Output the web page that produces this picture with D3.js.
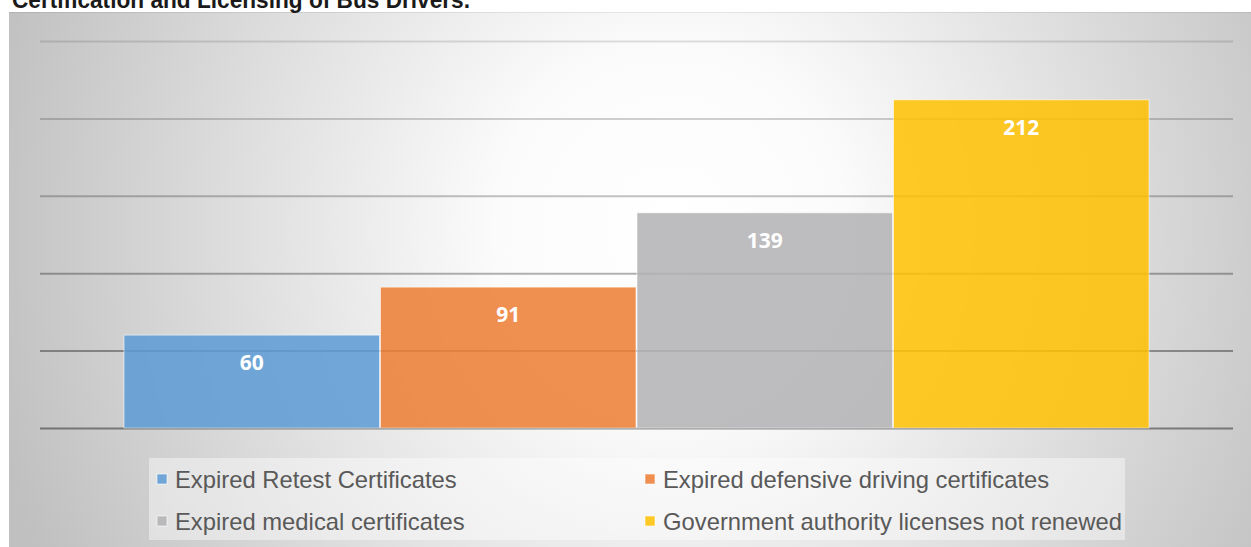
<!DOCTYPE html>
<html>
<head>
<meta charset="utf-8">
<script src="https://cdn.jsdelivr.net/npm/d3@7"></script>
<style>
  html, body { margin: 0; padding: 0; background: #ffffff; }
  svg { display: block; }
</style>
</head>
<body>
<svg id="chart" width="1251" height="547"></svg>
<script>
// Bus driver certification and licensing issues
const categories = [""];
const seriesNames = [
  "Expired Retest Certificates",
  "Expired defensive driving certificates",
  "Expired medical certificates",
  "Government authority licenses not renewed"
];
const seriesValues = [60, 91, 139, 212];
const seriesColors = ["#5b9bd5", "#ed7d31", "#b1b1b4", "#ffc000"];
const yTicks = [0, 50, 100, 150, 200, 250];
const titleText = "Certification and Licensing of Bus Drivers.";

const W = 1251, H = 547;
const svg = d3.select("#chart");
const defs = svg.append("defs");

// Chart area background: soft radial shading
const bg = defs.append("radialGradient")
  .attr("id", "bgGrad")
  .attr("gradientUnits", "userSpaceOnUse")
  .attr("cx", 670).attr("cy", 230).attr("r", 700)
  .attr("gradientTransform", "translate(670,230) scale(1,1.05) translate(-670,-230)");
bg.append("stop").attr("offset", 0).attr("stop-color", "#ffffff");
bg.append("stop").attr("offset", 0.25).attr("stop-color", "#fbfbfb");
bg.append("stop").attr("offset", 1).attr("stop-color", "#c0c0c0");

const area = { x: 9, y: 12, w: W - 9, h: H - 12 };
svg.append("rect")
  .attr("x", area.x).attr("y", area.y)
  .attr("width", area.w).attr("height", area.h)
  .attr("fill", "url(#bgGrad)");
svg.append("line")
  .attr("x1", area.x).attr("x2", W).attr("y1", area.y + 0.5).attr("y2", area.y + 0.5)
  .attr("stroke", "rgba(0,0,0,0.08)");

// Title (runs off the top edge of the page)
svg.append("text")
  .attr("x", 12).attr("y", 8)
  .attr("font-family", "Liberation Sans, Arial, sans-serif")
  .attr("font-weight", "bold")
  .attr("font-size", 23)
  .attr("fill", "#1a1a1a")
  .attr("textLength", 458)
  .attr("lengthAdjust", "spacingAndGlyphs")
  .text(titleText);

// Scales
const plot = { left: 40, right: 1233, top: 41, bottom: 428 };
const y = d3.scaleLinear().domain([0, 250]).range([plot.bottom, plot.top]);
const x0 = d3.scaleBand().domain(categories)
  .range([plot.left, plot.right]).paddingInner(0).paddingOuter(0.0814);
const x1 = d3.scaleBand().domain(seriesNames).range([0, x0.bandwidth()]).padding(0);
const color = d3.scaleOrdinal().domain(seriesNames).range(seriesColors);

// Gridlines via axis
const opac = d3.scaleLinear().domain([0, 250]).range([0.42, 0.12]);
const gridAxis = d3.axisLeft(y).tickValues(yTicks)
  .tickSize(-(plot.right - plot.left)).tickFormat("");
const grid = svg.append("g")
  .attr("transform", `translate(${plot.left},0)`)
  .call(gridAxis);
grid.select(".domain").remove();
grid.selectAll(".tick line")
  .attr("stroke", d => `rgba(0,0,0,${opac(d)})`)
  .attr("stroke-width", 2);

// Bars
const data = seriesNames.map((s, i) => ({ name: s, value: seriesValues[i] }));
const g = svg.append("g").attr("transform", `translate(${x0("")},0)`);
g.selectAll("rect.bar").data(data).join("rect")
  .attr("class", "bar")
  .attr("x", d => x1(d.name) + 0.5)
  .attr("y", d => y(d.value))
  .attr("width", x1.bandwidth() - 1)
  .attr("height", d => y(0) - y(d.value))
  .attr("fill", d => color(d.name))
  .attr("fill-opacity", 0.85)
  .attr("stroke", "rgba(255,255,255,0.55)")
  .attr("stroke-width", 1);

// Value labels
g.selectAll("text.lbl").data(data).join("text")
  .attr("class", "lbl")
  .attr("x", d => x1(d.name) + x1.bandwidth() / 2)
  .attr("y", d => y(d.value) + 35)
  .attr("text-anchor", "middle")
  .attr("font-family", "Open Sans, sans-serif")
  .attr("font-weight", "bold")
  .attr("font-size", 21)
  .attr("fill", "#ffffff")
  .text(d => d.value);

// Legend
const leg = svg.append("g");
leg.append("rect")
  .attr("x", 149).attr("y", 458).attr("width", 976).attr("height", 82)
  .attr("fill", "rgba(255,255,255,0.42)");
const cols = [157, 645], rows = [479, 521];
const items = leg.selectAll("g.item").data(data).join("g")
  .attr("class", "item")
  .attr("transform", (d, i) => `translate(${cols[i % 2]},${rows[Math.floor(i / 2)]})`);
items.append("rect")
  .attr("x", 0).attr("y", -5).attr("width", 10).attr("height", 10)
  .attr("fill", d => color(d.name)).attr("fill-opacity", 0.85)
  .attr("stroke", "rgba(255,255,255,0.6)");
items.append("text")
  .attr("x", 18).attr("y", 8.5)
  .attr("font-family", "Liberation Sans, Arial, sans-serif")
  .attr("font-size", 23.8)
  .attr("fill", "#595959")
  .text(d => d.name);
</script>
</body>
</html>
